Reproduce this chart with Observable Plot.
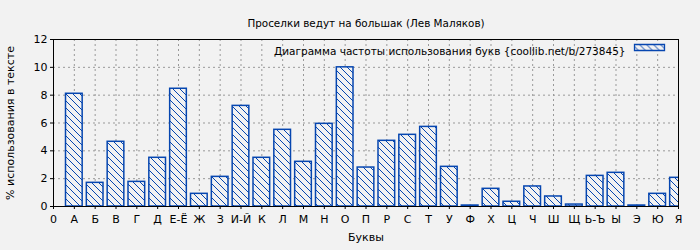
<!DOCTYPE html>
<html><head><meta charset="utf-8">
<script src="https://cdn.jsdelivr.net/npm/d3@7"></script>
<script src="https://cdn.jsdelivr.net/npm/@observablehq/plot@0.6"></script>
<style>html,body{margin:0;padding:0;background:#f2f2f2;}</style>
</head><body><div id="chart"></div>
<script>
const letters = ["А","Б","В","Г","Д","Е-Ё","Ж","З","И-Й","К","Л","М","Н","О","П","Р","С","Т","У","Ф","Х","Ц","Ч","Ш","Щ","Ь-Ъ","Ы","Э","Ю","Я"];
const values = [8.10,1.70,4.65,1.77,3.50,8.46,0.91,2.13,7.23,3.50,5.51,3.21,5.94,10.0,2.80,4.72,5.15,5.72,2.85,0.07,1.27,0.34,1.44,0.72,0.14,2.20,2.42,0.07,0.91,2.06];
const tickLabels = ["0", ...letters];
const yTicks = [0,2,4,6,8,10,12];
const yGrid = [2,4,6,8,10];
const title = "Проселки ведут на большак (Лев Маляков)";
const legendLabel = "Диаграмма частоты использования букв {coollib.net/b/273845}";
const xLabel = "Буквы";
const yLabel = "% использования в тексте";

const blue = "#0646b0";
const bg = "#f2f2f2";
const data = letters.map((l, i) => ({letter: l, pos: i + 1, value: values[i]}));
const xTicks = d3.range(0, tickLabels.length);
const xGrid = d3.range(1, tickLabels.length - 1);

const swatch = {draw(ctx) { ctx.rect(-15, -3, 30, 6); }};

const plot = Plot.plot({
  width: 700, height: 250,
  marginTop: 39, marginBottom: 44, marginLeft: 53, marginRight: 22,
  style: {background: bg, fontFamily: "DejaVu Sans", fontSize: "10px", color: "#000"},
  x: {domain: [0, tickLabels.length - 1], label: null},
  y: {domain: [0, 12], label: null},
  marks: [
    Plot.gridX(xGrid, {stroke: "#999", strokeOpacity: 1, strokeDasharray: "2,3"}),
    Plot.gridY(yGrid, {stroke: "#999", strokeOpacity: 1, strokeDasharray: "2,3"}),
    Plot.rectY(data, {x1: d => d.pos - 0.4, x2: d => d.pos + 0.4, y1: 0, y2: "value",
      fill: "url(#hatch)", stroke: blue, strokeWidth: 1.5, clip: true}),
    Plot.frame({stroke: "#000", strokeWidth: 1}),
    Plot.axisX(xTicks, {tickFormat: i => tickLabels[i], tickSize: 3, tickPadding: 6, fontSize: 11}),
    Plot.axisY(yTicks, {tickSize: 3, tickPadding: 3, fontSize: 11}),
    Plot.text([title], {frameAnchor: "top", dy: -20, text: d => d, fontSize: 10.4}),
    Plot.text([xLabel], {frameAnchor: "bottom", dy: 34, text: d => d, fontSize: 11}),
    Plot.text([yLabel], {frameAnchor: "left", dx: -43, rotate: -90, textAnchor: "middle", text: d => d, fontSize: 11}),
    Plot.text([legendLabel], {frameAnchor: "top-right", dx: -53, dy: 8, textAnchor: "end", text: d => d, fontSize: 10.5}),
    Plot.dot([legendLabel], {frameAnchor: "top-right", dx: -29, dy: 8, symbol: swatch, r: 5,
      fill: "url(#hatch)", stroke: blue, strokeWidth: 1.3})
  ]
});

const P = 7;
const defs = d3.select(plot).insert("defs", ":first-child");
const pat = defs.append("pattern").attr("id", "hatch").attr("patternUnits", "userSpaceOnUse")
  .attr("width", P).attr("height", P);
pat.append("rect").attr("width", P).attr("height", P).attr("fill", bg);
pat.append("path").attr("d", `M0,0L${P},${P}M-1,${P-1}L1,${P+1}M${P-1},-1L${P+1},1`)
  .attr("stroke", blue).attr("stroke-width", 1);

document.getElementById("chart").append(plot);
</script>
</body></html>
